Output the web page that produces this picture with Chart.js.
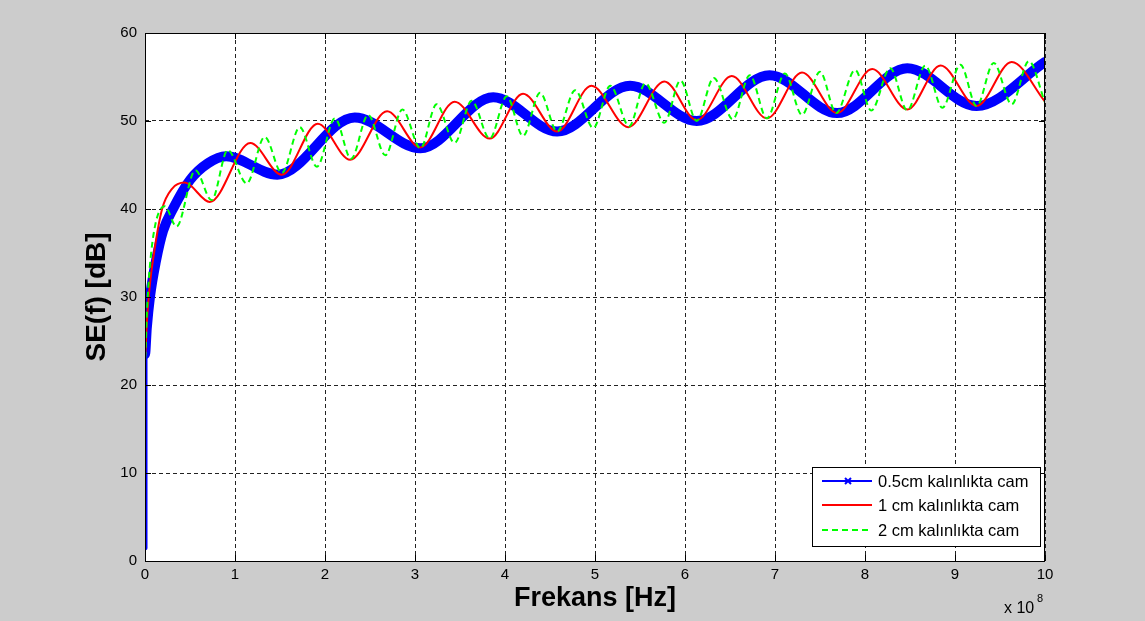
<!DOCTYPE html>
<html>
<head>
<meta charset="utf-8">
<script src="https://cdn.jsdelivr.net/npm/chart.js@4.4.1/dist/chart.umd.min.js"></script>
<style>
  body { margin: 0; background: #cccccc; }
  canvas { display: block; }
</style>
</head>
<body>
<canvas id="seChart" width="1145" height="621"></canvas>
<script>
// values (x in units of 1e8 Hz, y in dB)
const freqBlue = [0, 0, 0, 0.02, 0.055, 0.12, 0.2, 0.31, 0.5, 0.7, 0.9, 1.47, 2.33, 3.06, 3.87, 4.58, 5.39, 6.13, 6.94, 7.69, 8.47, 9.24, 10];
const seBlue   = [1.5, 12, 23.5, 26.5, 30, 34, 37.5, 40, 43.3, 45.2, 46.0, 43.9, 50.4, 46.9, 52.7, 48.8, 54.0, 50.0, 55.2, 50.9, 56.0, 51.7, 56.7];

const freqRed = [0, 0, 0.02, 0.05, 0.1, 0.19, 0.3, 0.44, 0.72, 1.17, 1.52, 1.92, 2.28, 2.69, 3.06, 3.44, 3.83, 4.2, 4.58, 4.96,
                 5.37, 5.77, 6.13, 6.52, 6.91, 7.3, 7.69, 8.08, 8.47, 8.84, 9.24, 9.63, 10];
const seRed   = [1.5, 23, 27, 31, 35, 40, 42.3, 43.0, 40.8, 47.5, 43.9, 49.7, 45.6, 51.1, 47.0, 52.2, 48.0, 53.1, 48.8, 54.0,
                 49.3, 54.5, 50.1, 55.1, 50.3, 55.5, 50.9, 55.9, 51.3, 56.3, 51.7, 56.7, 52.2];

const freqGreen = [0, 0, 0.02, 0.05, 0.11, 0.22, 0.35, 0.56, 0.74, 0.92, 1.13, 1.33, 1.52, 1.72, 1.91, 2.11, 2.29, 2.48, 2.67, 2.86,
                   3.06, 3.24, 3.44, 3.63, 3.83, 4.02, 4.2, 4.39, 4.58, 4.78, 4.98, 5.17, 5.38, 5.56, 5.77, 5.95, 6.13, 6.32, 6.53, 6.72,
                   6.91, 7.11, 7.3, 7.5, 7.68, 7.89, 8.07, 8.28, 8.47, 8.67, 8.86, 9.06, 9.24, 9.43, 9.63, 9.82, 10];
const seGreen   = [1.5, 23, 28, 33, 38, 40.3, 38.0, 44.4, 41.0, 46.7, 42.9, 48.2, 44.1, 49.3, 44.8, 50.3, 45.7, 50.7, 46.1, 51.3,
                   46.9, 51.9, 47.5, 52.3, 48.0, 52.8, 48.3, 53.2, 48.8, 53.5, 49.2, 54.0, 49.4, 54.3, 49.8, 54.6, 50.0, 54.9, 50.2, 55.2,
                   50.3, 55.4, 50.7, 55.6, 50.9, 55.8, 51.2, 56.0, 51.2, 56.3, 51.5, 56.4, 51.7, 56.6, 51.9, 56.8, 52.1];

const seriesLabels = ['0.5cm kalınlıkta cam', '1 cm kalınlıkta cam', '2 cm kalınlıkta cam'];
const xTickLabels = ['0', '1', '2', '3', '4', '5', '6', '7', '8', '9', '10'];
const yTickLabels = ['0', '10', '20', '30', '40', '50', '60'];

const FONT = "'Liberation Sans', Arial, sans-serif";

const toPoints = (xs, ys) => xs.map((x, i) => ({ x: x, y: ys[i] }));

// white plot area + solid box + inward ticks (MATLAB look)
const axesBox = {
    id: 'axesBox',
    beforeDraw(chart) {
        const { ctx, chartArea: a } = chart;
        ctx.save();
        ctx.fillStyle = '#ffffff';
        ctx.fillRect(a.left, a.top, a.right - a.left, a.bottom - a.top);
        ctx.restore();
    },
    afterDraw(chart) {
        const { ctx, chartArea: a, scales } = chart;
        ctx.save();
        ctx.strokeStyle = '#000000';
        ctx.lineWidth = 1;
        ctx.strokeRect(a.left + 0.5, a.top + 0.5, a.right - a.left - 1, a.bottom - a.top);
        ctx.beginPath();
        scales.x.ticks.forEach(t => {
            const px = Math.round(scales.x.getPixelForValue(t.value)) + 0.5;
            ctx.moveTo(px, a.bottom); ctx.lineTo(px, a.bottom - 6);
            ctx.moveTo(px, a.top); ctx.lineTo(px, a.top + 6);
        });
        scales.y.ticks.forEach(t => {
            const py = Math.round(scales.y.getPixelForValue(t.value)) + 0.5;
            ctx.moveTo(a.left, py); ctx.lineTo(a.left + 6, py);
            ctx.moveTo(a.right, py); ctx.lineTo(a.right - 6, py);
        });
        ctx.stroke();

        // exponent label
        ctx.fillStyle = '#000000';
        ctx.textBaseline = 'alphabetic';
        ctx.font = '16px ' + FONT;
        ctx.fillText('x 10', 1004, 613);
        ctx.font = '11px ' + FONT;
        ctx.fillText('8', 1037, 602);

        // legend
        const lx = 812, ly = 467, lw = 228, lh = 79;
        ctx.fillStyle = '#ffffff';
        ctx.fillRect(lx, ly, lw, lh);
        ctx.strokeRect(lx + 0.5, ly + 0.5, lw, lh);
        const rows = [481, 505, 530];
        chart.data.datasets.forEach((ds, i) => {
            const y = rows[i];
            ctx.save();
            ctx.strokeStyle = ds.borderColor;
            ctx.lineWidth = 2;
            ctx.setLineDash(ds.legendDash || []);
            ctx.beginPath();
            ctx.moveTo(822, y); ctx.lineTo(872, y);
            ctx.stroke();
            ctx.setLineDash([]);
            if (ds.legendMarker) {
                ctx.beginPath();
                ctx.moveTo(845, y - 3); ctx.lineTo(851, y + 3);
                ctx.moveTo(845, y + 3); ctx.lineTo(851, y - 3);
                ctx.stroke();
            }
            ctx.restore();
            ctx.fillStyle = '#000000';
            ctx.font = '16.5px ' + FONT;
            ctx.textBaseline = 'middle';
            ctx.fillText(ds.label, 878, y + 1);
        });
        ctx.restore();
    }
};

new Chart(document.getElementById('seChart'), {
    type: 'line',
    data: {
        datasets: [
            {
                label: seriesLabels[0],
                data: toPoints(freqBlue, seBlue),
                borderColor: '#0000ff',
                borderWidth: 10,
                borderCapStyle: 'round',
                borderJoinStyle: 'round',
                // the part on the y axis is only the thin line with sparse markers
                segment: {
                    borderWidth: c => (c.p0.parsed.x === 0 && c.p1.parsed.x === 0) ? 5 : undefined
                },
                legendMarker: true,
                order: 3
            },
            {
                label: seriesLabels[1],
                data: toPoints(freqRed, seRed),
                borderColor: '#ff0000',
                borderWidth: 2,
                order: 2
            },
            {
                label: seriesLabels[2],
                data: toPoints(freqGreen, seGreen),
                borderColor: '#00ff00',
                borderWidth: 2,
                borderDash: [6, 4],
                legendDash: [6, 4],
                order: 1
            }
        ]
    },
    options: {
        responsive: false,
        animation: false,
        devicePixelRatio: 1,
        layout: { padding: { left: 0, top: 33, right: 100, bottom: 0 } },
        elements: { point: { radius: 0 }, line: { cubicInterpolationMode: 'monotone' } },
        plugins: { legend: { display: false }, tooltip: { enabled: false } },
        scales: {
            x: {
                type: 'linear',
                min: 0,
                max: 10,
                afterFit: s => { s.height = 60; },
                ticks: {
                    stepSize: 1,
                    autoSkip: false,
                    maxRotation: 0,
                    padding: 5,
                    color: '#000000',
                    font: { family: FONT, size: 15 },
                    callback: (v, i) => xTickLabels[i]
                },
                grid: { color: '#222222', drawTicks: false, lineWidth: 1 },
                border: { display: false, dash: [4, 3] },
                title: {
                    display: true,
                    text: 'Frekans [Hz]',
                    color: '#000000',
                    font: { family: FONT, size: 27, weight: 'bold' },
                    padding: { top: 0, bottom: 6 }
                }
            },
            y: {
                min: 0,
                max: 60,
                afterFit: s => { s.width = 145; },
                ticks: {
                    stepSize: 10,
                    padding: 8,
                    color: '#000000',
                    font: { family: FONT, size: 15 },
                    callback: (v, i) => yTickLabels[i]
                },
                grid: { color: '#222222', drawTicks: false, lineWidth: 1 },
                border: { display: false, dash: [4, 3] },
                title: {
                    display: true,
                    text: 'SE(f) [dB]',
                    color: '#000000',
                    font: { family: FONT, size: 28, weight: 'bold' },
                    padding: { top: 80, bottom: 0 }
                }
            }
        }
    },
    plugins: [axesBox]
});
</script>
</body>
</html>
